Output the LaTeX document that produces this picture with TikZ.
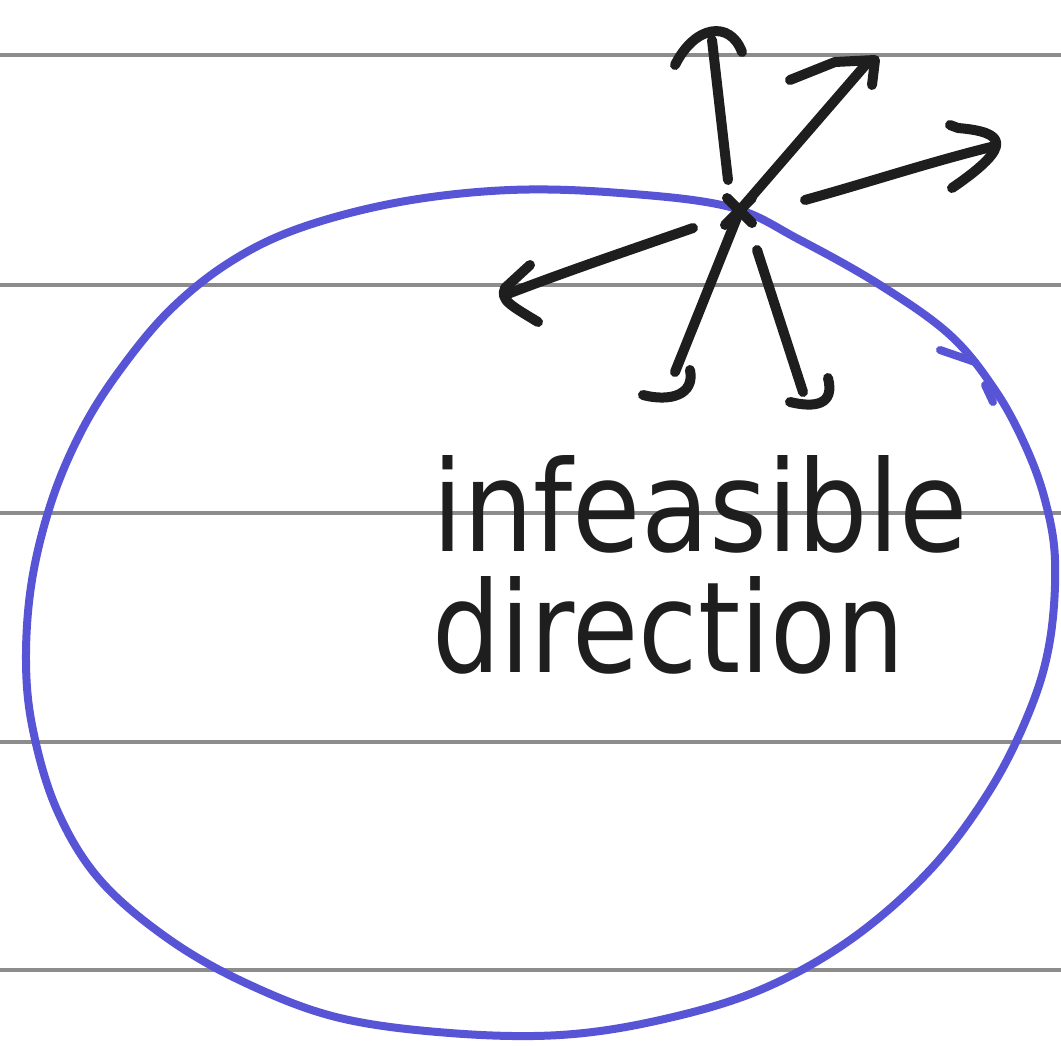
\documentclass[tikz,border=0pt]{standalone}
\usepackage{fontspec}
\setmainfont{DejaVu Sans}
\usepackage{graphicx}
\definecolor{penblue}{RGB}{88,84,214}
\definecolor{ink}{RGB}{30,30,30}
\definecolor{rule}{RGB}{140,140,140}
\begin{document}
\begin{tikzpicture}[x=0.02cm,y=-0.02cm,
  ruleline/.style={rule,line width=4*0.02cm},
  blueink/.style={penblue,line width=8*0.02cm,line cap=round,line join=round},
  blackink/.style={ink,line width=10*0.02cm,line cap=round,line join=round}]
\useasboundingbox (0,0) rectangle (1061,1045);
\fill[white] (0,0) rectangle (1061,1045);
% ruled lines
\foreach \y in {55,285,513,742,970} \draw[ruleline] (0,\y) -- (1061,\y);
% blue boundary
\draw[blueink] plot[smooth cycle,tension=0.6] coordinates{
 (510,190) (620,193) (730,207) (800,240) (880,285) (950,335) (995,390)
 (1025,445) (1045,500) (1055,560) (1050,640) (1030,710) (990,790) (930,870)
 (850,940) (760,990) (660,1020) (560,1035) (450,1033) (340,1018) (250,985)
 (170,940) (100,880) (57,810) (33,730) (26,660) (32,580) (52,500) (82,430)
 (120,370) (170,310) (230,262) (300,228) (400,202)};
\draw[blueink] (940,350) -- (975,362);
\draw[blueink] (985,385) -- (993,402);
% point and directions
\coordinate (c) at (740,210);
\draw[blackink] (727,198) -- (752,223) (752,198) -- (725,225);
\coordinate (up) at (712,40);
\coordinate (ur) at (868,62);
\coordinate (rt) at (995,146);
\coordinate (lf) at (505,295);
\coordinate (dl) at (675,372);
\coordinate (dr) at (803,392);
\draw[blackink] (728,180) -- (up);
\draw[blackink] (675,65) .. controls (695,25) and (730,20) .. (742,52);
\draw[blackink] (c) -- (ur);
\draw[blackink] (790,80) -- (835,62) -- (875,60) -- (872,85);
\draw[blackink] (805,200) .. controls (870,182) and (930,162) .. (rt);
\draw[blackink] (950,125) -- (958,128) .. controls (1005,132) and (1015,145) .. (952,188);
\draw[blackink] (693,228) .. controls (630,250) and (570,270) .. (lf);
\draw[blackink] (530,265) -- (505,288) .. controls (500,300) and (510,305) .. (538,322);
\draw[blackink] (c) -- (dl);
\draw[blackink] (643,395) .. controls (670,402) and (695,395) .. (690,370);
\draw[blackink] (757,250) -- (dr);
\draw[blackink] (790,402) .. controls (815,408) and (835,405) .. (828,378);
% label
\node[anchor=north west,inner sep=0,ink] (l1) at (432,455) {\resizebox{535\dimexpr0.02cm\relax}{96\dimexpr0.02cm\relax}{infeasible}};
\node[anchor=north west,inner sep=0,ink] (l2) at (432,576) {\resizebox{472\dimexpr0.02cm\relax}{96\dimexpr0.02cm\relax}{direction}};
\end{tikzpicture}
\end{document}
